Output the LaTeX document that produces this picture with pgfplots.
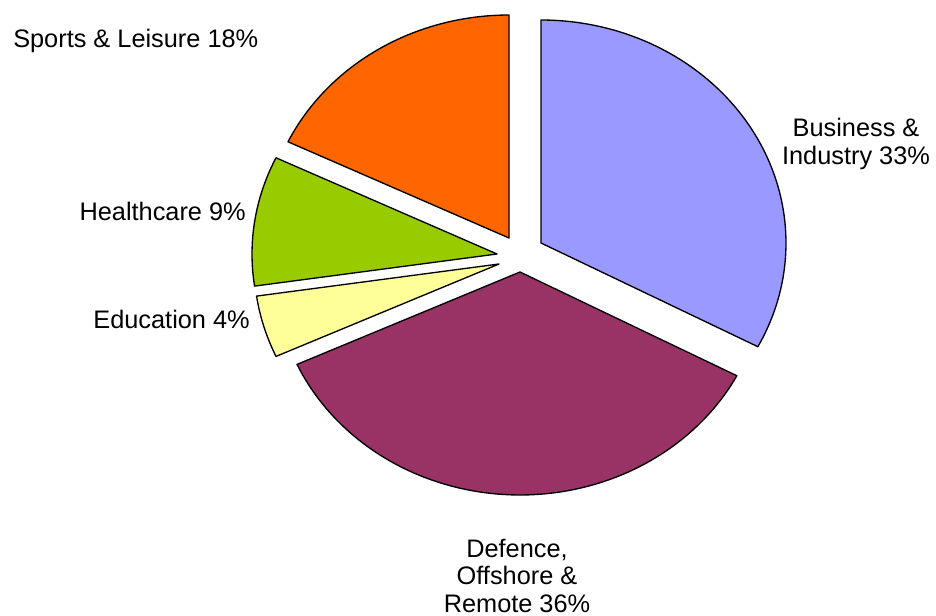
\documentclass[border=0pt]{standalone}
\usepackage{pgfplots}
\pgfplotsset{compat=1.18}
\usepackage{fontspec}
\setmainfont{Liberation Sans}
\definecolor{cB}{HTML}{9999FF}
\definecolor{cD}{HTML}{993366}
\definecolor{cE}{HTML}{FFFF99}
\definecolor{cH}{HTML}{99CC00}
\definecolor{cS}{HTML}{FF6600}
% shares (percent)
\def\vB{32.7}\def\vD{35.5}\def\vE{4.5}\def\vH{9.4}\def\vS{17.9}
\pgfmathsetmacro{\aB}{90}
\pgfmathsetmacro{\aD}{\aB-3.6*\vB}
\pgfmathsetmacro{\aE}{\aD-3.6*\vD}
\pgfmathsetmacro{\aH}{\aE-3.6*\vE}
\pgfmathsetmacro{\aS}{\aH-3.6*\vH}
\pgfmathsetmacro{\aEnd}{\aS-3.6*\vS}
\begin{document}
\begin{tikzpicture}
\begin{axis}[
  scale only axis, width=702pt, height=462pt,
  xmin=0, xmax=936, ymin=0, ymax=616, y dir=reverse,
  hide axis, clip=false,
]
\addplot[fill=cB, draw=black, line width=1pt, domain=\aD:\aB, samples=90, line join=round]
  ({541+245*cos(x)},{243-223*sin(x)}) -- (axis cs:541,243) -- cycle;
\addplot[fill=cD, draw=black, line width=1pt, domain=\aE:\aD, samples=90, line join=round]
  ({520+245*cos(x)},{272-223*sin(x)}) -- (axis cs:520,272) -- cycle;
\addplot[fill=cE, draw=black, line width=1pt, domain=\aH:\aE, samples=20, line join=round]
  ({499+245*cos(x)},{264-223*sin(x)}) -- (axis cs:499,264) -- cycle;
\addplot[fill=cH, draw=black, line width=1pt, domain=\aS:\aH, samples=30, line join=round]
  ({497+245*cos(x)},{254-223*sin(x)}) -- (axis cs:497,254) -- cycle;
\addplot[fill=cS, draw=black, line width=1pt, domain=\aEnd:\aS, samples=50, line join=round]
  ({509+245*cos(x)},{238-223*sin(x)}) -- (axis cs:509,238) -- cycle;
\begin{scope}[every node/.style={font=\fontsize{19}{21}\selectfont, inner sep=0pt}]
\node[anchor=base west] at (axis cs:13,48) {Sports \& Leisure 18\%};
\node[anchor=base east] at (axis cs:246,221) {Healthcare 9\%};
\node[anchor=base east] at (axis cs:250,329) {Education 4\%};
\node[anchor=base] at (axis cs:856,137) {Business \&};
\node[anchor=base] at (axis cs:856,165) {Industry 33\%};
\node[anchor=base] at (axis cs:517,558) {Defence,};
\node[anchor=base] at (axis cs:517,585) {Offshore \&};
\node[anchor=base] at (axis cs:517,612) {Remote 36\%};
\end{scope}
\end{axis}
\pgfresetboundingbox
\path (current axis.south west) rectangle (current axis.north east);
\end{tikzpicture}
\end{document}
